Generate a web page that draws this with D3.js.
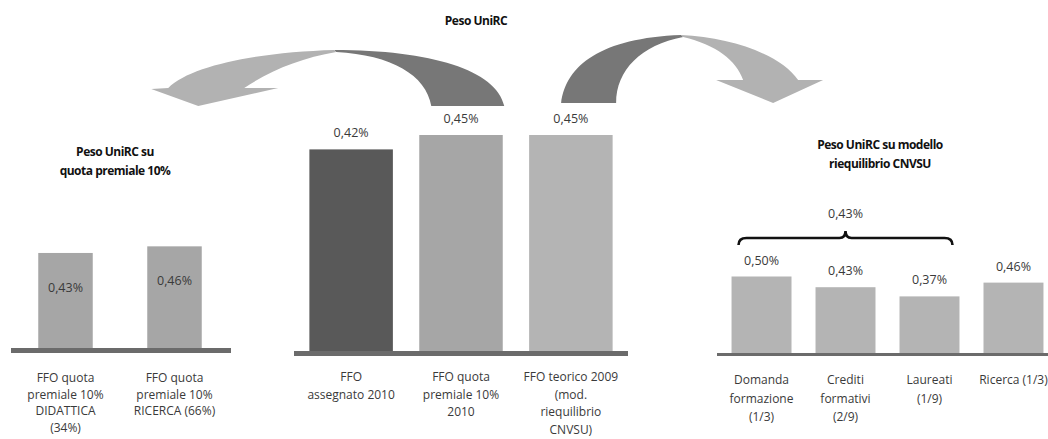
<!DOCTYPE html>
<html>
<head>
<meta charset="utf-8">
<script src="https://cdn.jsdelivr.net/npm/d3@7"></script>
<style>
  body { margin: 0; background: #fff; }
  svg { display: block; }
  text { font-family: "Open Sans", "Noto Sans", sans-serif; fill: #3a3a3a; }
  .ttl { font-weight: bold; fill: #111; font-size: 12px; letter-spacing: -0.5px; }
</style>
</head>
<body>
<svg id="chart" width="1048" height="439"></svg>
<script>
// left panel: peso su quota premiale
const leftCats = ["did", "ric"];
const leftLabels = [["FFO quota", "premiale 10%", "DIDATTICA", "(34%)"], ["FFO quota", "premiale 10%", "RICERCA (66%)"]];
const leftValues = [0.43, 0.46];

// middle panel
const midCats = ["ass", "prem", "teo"];
const midLabels = [["FFO", "assegnato 2010"], ["FFO quota", "premiale 10%", "2010"], ["FFO teorico 2009", "(mod.", "riequilibrio", "CNVSU)"]];
const midValues = [0.42, 0.45, 0.45];
const midColors = ["#595959", "#a6a6a6", "#b4b4b4"];

// right panel: modello riequilibrio
const rightCats = ["dom", "cred", "laur", "ric"];
const rightLabels = [["Domanda", "formazione", "(1/3)"], ["Crediti", "formativi", "(2/9)"], ["Laureati", "(1/9)"], ["Ricerca (1/3)"]];
const rightValues = [0.50, 0.43, 0.37, 0.46];
const braceValue = 0.43;

const fmt = v => v.toFixed(2).replace(".", ",") + "%";

const svg = d3.select("#chart");

function panel(cfg) {
  let x = d3.scaleBand().domain(cfg.cats).range(cfg.xr).paddingInner(cfg.pi).paddingOuter(cfg.po);
  let y = d3.scaleLinear().domain([0, cfg.ymax]).range([cfg.base, cfg.base - cfg.ymax * cfg.k]);
  let g = svg.append("g");

  g.selectAll("rect.bar").data(cfg.values).enter().append("rect")
    .attr("class", "bar")
    .attr("x", (d, i) => x(cfg.cats[i]))
    .attr("width", x.bandwidth())
    .attr("y", d => y(d))
    .attr("height", d => y(0) - y(d))
    .attr("fill", (d, i) => cfg.colors ? cfg.colors[i] : cfg.color);

  // base line
  g.append("rect")
    .attr("x", cfg.xr[0]).attr("width", cfg.lineEnd - cfg.xr[0])
    .attr("y", cfg.base).attr("height", cfg.lineH)
    .attr("fill", "#6b6b6b");

  g.selectAll("text.val").data(cfg.values).enter().append("text")
    .attr("class", "val")
    .attr("x", (d, i) => x(cfg.cats[i]) + x.bandwidth() / 2)
    .attr("y", d => y(d) + cfg.labOff)
    .attr("text-anchor", "middle")
    .attr("font-size", "12.5px")
    .text(fmt);

  cfg.labels.forEach((lines, i) => {
    let t = g.append("text")
      .attr("text-anchor", "middle")
      .attr("font-size", "12px")
      .attr("x", x(cfg.cats[i]) + x.bandwidth() / 2)
      .attr("y", cfg.labY);
    lines.forEach((s, j) => {
      t.append("tspan").attr("x", x(cfg.cats[i]) + x.bandwidth() / 2)
        .attr("dy", j == 0 ? 0 : cfg.lineStep).text(s);
    });
  });

  if (cfg.title) {
    let t = svg.append("text").attr("class", "ttl").attr("text-anchor", "middle")
      .attr("x", cfg.title.x).attr("y", cfg.title.y);
    cfg.title.lines.forEach((s, j) => {
      t.append("tspan").attr("x", cfg.title.x).attr("dy", j == 0 ? 0 : 19).text(s);
    });
  }
  return {x: x, y: y};
}

let L = panel({
  cats: leftCats, values: leftValues, labels: leftLabels, color: "#a6a6a6",
  xr: [11, 229], pi: 0.5, po: 0.25, lineEnd: 231, base: 348, lineH: 5,
  ymax: 0.46, k: 221, labOff: 39, labY: 382, lineStep: 16.5,
  title: {x: 115, y: 156, lines: ["Peso UniRC su", "quota premiale 10%"]}
});

let M = panel({
  cats: midCats, values: midValues, labels: midLabels, colors: midColors,
  xr: [294, 628], pi: 0.24, po: 0.14, lineEnd: 628, base: 351, lineH: 5,
  ymax: 0.45, k: 480, labOff: -12, labY: 381, lineStep: 17.5,
  title: {x: 476, y: 25, lines: ["Peso UniRC"]}
});

let R = panel({
  cats: rightCats, values: rightValues, labels: rightLabels, color: "#b4b4b4",
  xr: [717, 1058], pi: 0.286, po: 0.173, lineEnd: 1048, base: 353, lineH: 3,
  ymax: 0.5, k: 153, labOff: -12, labY: 384, lineStep: 18.5,
  title: {x: 880, y: 149, lines: ["Peso UniRC su modello", "riequilibrio CNVSU"]}
});

// brace over the first three components
let bx0 = R.x(rightCats[0]) + 7, bx1 = R.x(rightCats[2]) + R.x.bandwidth() - 7;
let bm = R.x(rightCats[1]) + R.x.bandwidth() / 2;
let by = 238;
svg.append("path")
  .attr("d", `M${bx0},${by + 7} Q${bx0},${by} ${bx0 + 8},${by} L${bm - 6},${by} Q${bm},${by} ${bm},${by - 7} Q${bm},${by} ${bm + 6},${by} L${bx1 - 8},${by} Q${bx1},${by} ${bx1},${by + 7}`)
  .attr("fill", "none").attr("stroke", "#111").attr("stroke-width", 2.6);
svg.append("text").attr("x", bm).attr("y", 218).attr("text-anchor", "middle")
  .attr("font-size", "12.5px").text(fmt(braceValue));

// curved arrows from the middle panel to the side panels
let a1 = M.x(midCats[1]) + 12, a2 = M.x(midCats[2]) + 32;
let arrows = svg.append("g");
arrows.append("path").attr("fill", "#777")
  .attr("d", `M${a1 + 73},106 C${a1 + 65},70 ${a1},50 ${a1 - 97},50 L${a1 - 95},52 C${a1 - 40},55 ${a1 - 5},75 ${a1},106 Z`);
arrows.append("path").attr("fill", "#b2b2b2")
  .attr("d", `M${a1 - 97},50 C${a1 - 170},52 ${a1 - 240},65 ${a1 - 263},88 L${a1 - 280},89 L${a1 - 233},106 L${a1 - 153},88 L${a1 - 187},88 C${a1 - 160},70 ${a1 - 130},58 ${a1 - 95},52 Z`);
arrows.append("path").attr("fill", "#777")
  .attr("d", `M${a2},103 C${a2 + 5},65 ${a2 + 40},38 ${a2 + 120},35 L${a2 + 122},37 C${a2 + 80},45 ${a2 + 55},70 ${a2 + 55},103 Z`);
arrows.append("path").attr("fill", "#b2b2b2")
  .attr("d", `M${a2 + 120},35 C${a2 + 170},37 ${a2 + 220},55 ${a2 + 237},80 L${a2 + 262},80 L${a2 + 212},103 L${a2 + 155},80 L${a2 + 182},80 C${a2 + 175},60 ${a2 + 155},45 ${a2 + 122},37 Z`);
</script>
</body>
</html>
